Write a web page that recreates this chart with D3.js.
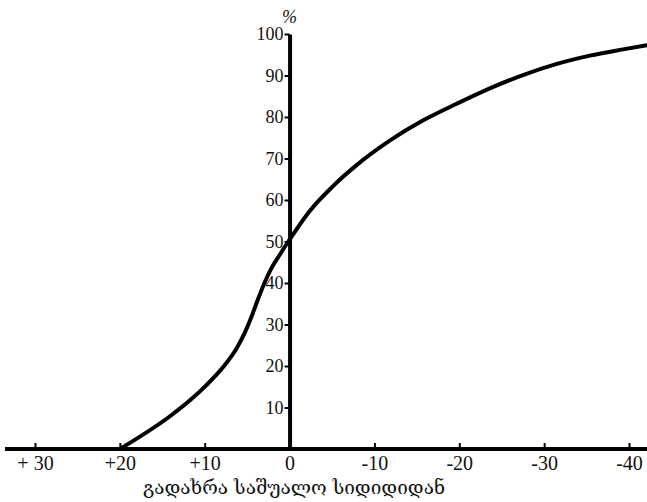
<!DOCTYPE html>
<html lang="ka">
<head>
<meta charset="utf-8">
<title>გადახრა საშუალო სიდიდიდან</title>
<script src="https://d3js.org/d3.v7.min.js"></script>
<style>
  body { margin: 0; background: #fff; }
  svg { display: block; }
</style>
</head>
<body>
<div id="chart"></div>
<script>
    // Values: deviation from the mean vs cumulative %
    const deviation = [20, 13.9, 11.7, 9.8, 7.8, 6.2, 5.3, 4.5, 3.7, 2.9, 2.1, 1.1, 0.15, -0.64, -2.4, -5.15, -7.9, -11.8, -15.75, -19.7, -23.6, -27.5, -31.5, -35.4, -39.3, -42.1];
    const percent = [0, 8.2, 11.8, 15.4, 19.8, 24.4, 27.9, 31.8, 36.2, 40.3, 43.7, 47, 50, 52.4, 57.4, 63.4, 68.4, 74.3, 79.2, 83.2, 86.9, 90.1, 92.8, 94.8, 96.3, 97.3];

    const xTicks = [30, 20, 10, 0, -10, -20, -30, -40];
    const xTickLabels = ["+ 30", "+20", "+10", "0", "-10", "-20", "-30", "-40"];
    const yTicks = [10, 20, 30, 40, 50, 60, 70, 80, 90, 100];
    const yUnit = "%";
    const xTitle = "გადახრა საშუალო სიდიდიდან";

    const width = 647, height = 502;
    const serif = "'Liberation Serif', 'DejaVu Serif', serif";

    const svg = d3.select("#chart")
        .append("svg")
        .attr("width", width)
        .attr("height", height);

    const x = d3.scaleLinear().domain([30, -40]).range([35, 629]);
    const y = d3.scaleLinear().domain([0, 100]).range([449, 34]);

    // X axis: long thick line, small ticks pointing up, labels below
    const xAxis = svg.append("g")
        .attr("transform", `translate(0, ${y(0)})`)
        .call(d3.axisBottom(x)
            .tickValues(xTicks)
            .tickFormat((d, i) => xTickLabels[i])
            .tickSizeInner(-6)
            .tickSizeOuter(0)
            .tickPadding(7));
    xAxis.select(".domain").remove();
    xAxis.append("line")
        .attr("x1", 5)
        .attr("x2", width)
        .attr("stroke", "#000")
        .attr("stroke-width", 4);
    xAxis.selectAll(".tick line").attr("stroke", "#000").attr("stroke-width", 2);
    xAxis.selectAll(".tick text")
        .attr("fill", "#111")
        .style("font-family", serif)
        .style("font-size", "20px");

    // Y axis through zero
    const yAxis = svg.append("g")
        .attr("transform", `translate(${x(0)}, 0)`)
        .call(d3.axisLeft(y)
            .tickValues(yTicks)
            .tickSizeInner(5)
            .tickSizeOuter(0)
            .tickPadding(1));
    yAxis.select(".domain")
        .attr("stroke", "#000")
        .attr("stroke-width", 4);
    yAxis.selectAll(".tick line").attr("stroke", "#000").attr("stroke-width", 2);
    yAxis.selectAll(".tick text")
        .attr("fill", "#111")
        .style("font-family", serif)
        .style("font-size", "18px");

    svg.append("text")
        .attr("x", x(0))
        .attr("y", 23)
        .attr("text-anchor", "middle")
        .attr("fill", "#111")
        .style("font-family", serif)
        .style("font-size", "18px")
        .style("font-style", "italic")
        .text(yUnit);

    svg.append("text")
        .attr("x", 294)
        .attr("y", 494)
        .attr("text-anchor", "middle")
        .attr("fill", "#111")
        .style("font-family", "'DejaVu Serif', 'DejaVu Sans', serif")
        .style("font-size", "19px")
        .text(xTitle);

    // The curve
    const line = d3.line()
        .x(d => x(d[0]))
        .y(d => y(d[1]))
        .curve(d3.curveMonotoneX);

    svg.append("path")
        .datum(deviation.map((d, i) => [d, percent[i]]))
        .attr("d", line)
        .attr("fill", "none")
        .attr("stroke", "#000")
        .attr("stroke-width", 4)
        .attr("stroke-linecap", "round");
</script>
</body>
</html>
